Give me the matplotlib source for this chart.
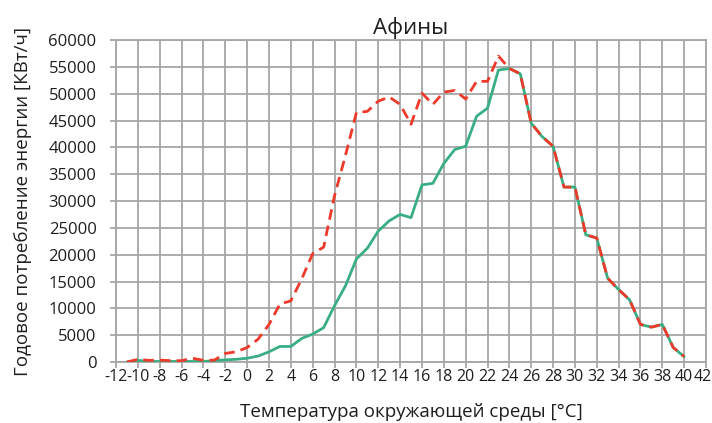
import numpy as np
import matplotlib
matplotlib.use('Agg')
import matplotlib.pyplot as plt
import matplotlib.transforms as mtransforms

plt.rcParams['font.family'] = ['Open Sans', 'DejaVu Sans']

# ambient temperature, degrees C
temps = list(range(-11, 41))

# annual energy consumption, kWh (dashed red series)
red_vals = [0, 500, 300, 350, 250, 250, 700, 300, 350, 1600, 1900,
            2700, 4250, 7000, 10800, 11400, 15500, 20200, 21400, 31000, 38500,
            46500, 46700, 48600, 49400, 48000, 44300, 50100, 48000, 50300, 50600,
            49000, 52300, 52300, 57000, 54700, 53700, 44500, 42000, 40200, 32600,
            32600, 23700, 23100, 15600, 13500, 11600, 7000, 6500, 7000, 2700,
            1000]

# annual energy consumption, kWh (solid green series)
green_vals = [0, 300, 100, 100, 100, 100, 100, 100, 250, 400, 500,
              700, 1100, 1900, 2900, 2900, 4400, 5200, 6400, 10500, 14200,
              19200, 21200, 24400, 26300, 27500, 26900, 33000, 33300, 37000, 39600,
              40200, 45800, 47300, 54400, 54700, 53700, 44500, 42000, 40200, 32600,
              32600, 23700, 23100, 15600, 13500, 11600, 7000, 6500, 7000, 2700,
              1000]

x_ticks = list(range(-12, 43, 2))
y_ticks = list(range(0, 60001, 5000))

fig = plt.figure(figsize=(7.12, 4.23), dpi=100)
ax = fig.add_axes([0.163, 0.1442, 0.8286, 0.7612])

grid_col = '#a6a6a6'
ax.plot(temps, green_vals, color='#3aae83', lw=2.0, solid_capstyle='round', zorder=3)
ax.plot(temps, red_vals, color='#ee3a2a', lw=2.0, ls=(0, (3.8, 2.2)), zorder=4)

ax.set_xlim(-12, 42)
ax.set_ylim(0, 60000)
ax.set_xticks(x_ticks)
ax.set_yticks(y_ticks)
ax.set_xticklabels([str(t) for t in x_ticks], fontsize=11.5)
ax.set_yticklabels([str(v) for v in y_ticks], fontsize=12)
ax.grid(True, color=grid_col, lw=1.3, zorder=0)
ax.set_axisbelow(True)
for s in ax.spines.values():
    s.set_color(grid_col)
    s.set_linewidth(1.3)
ax.tick_params(axis='both', color=grid_col, length=4, width=1.3, colors='#1e1e1e')
ax.tick_params(axis='x', pad=1)
ax.tick_params(axis='y', pad=10)

# keep the last x label inside the figure
last = ax.get_xticklabels()[-1]
last.set_transform(last.get_transform() + mtransforms.ScaledTranslation(-2/72, 0, fig.dpi_scale_trans))

ax.set_title('Афины', fontsize=16, pad=4, color='#1e1e1e')
ax.set_xlabel('Температура окружающей среды [°C]', fontsize=13.5, labelpad=13, color='#1e1e1e')
ax.set_ylabel('Годовое потребление энергии [КВт/ч]', fontsize=13.5, labelpad=12, color='#1e1e1e')

fig.savefig('out.png', dpi=100)
